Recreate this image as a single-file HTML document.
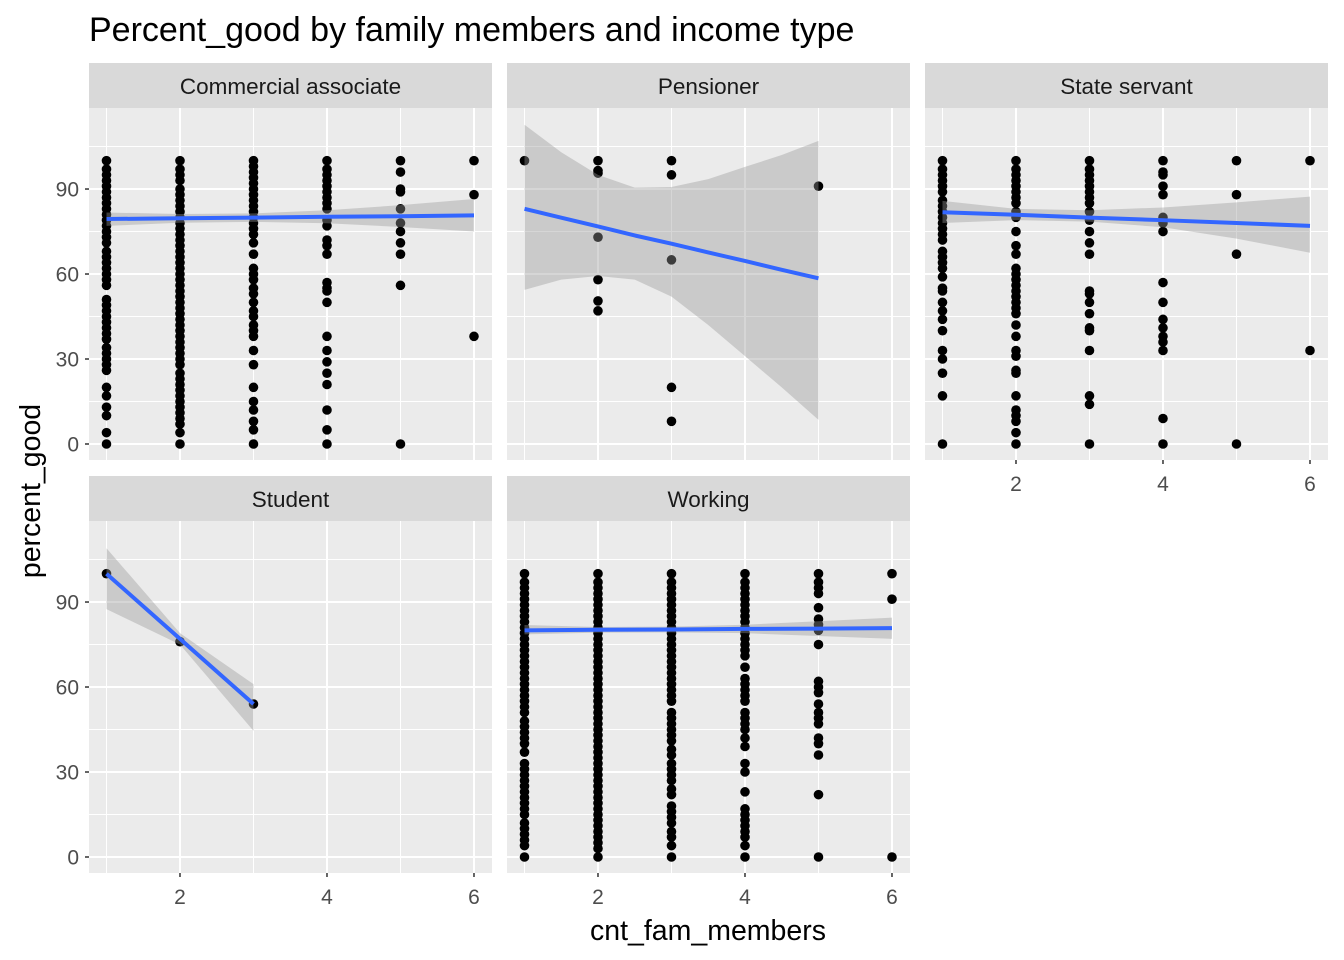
<!DOCTYPE html>
<html><head><meta charset="utf-8">
<style>
html,body{margin:0;padding:0;background:#fff;}
svg{display:block;font-family:"Liberation Sans",Arial,sans-serif;}
</style></head>
<body>
<svg id="chart" width="1344" height="960" viewBox="0 0 1344 960" xmlns="http://www.w3.org/2000/svg">
<rect width="1344" height="960" fill="#fff"/>
<text x="89" y="41" font-size="34" fill="#000">Percent_good by family members and income type</text>
<text x="708" y="940" font-size="28.5" text-anchor="middle" fill="#000">cnt_fam_members</text>
<text transform="translate(40,491) rotate(-90)" font-size="28.5" text-anchor="middle" fill="#000">percent_good</text>
<g id="panels"></g>
</svg>
<script>
// ---- data ----
const panelNames = ["Commercial associate","Pensioner","State servant","Student","Working"];
const xTicks = [2,4,6];
const yTicks = [0,30,60,90];

const comX1 = [100,97,95,93,91,89,87,85,83,81,79,77,75,73,71,68,66,64,62,60,58,56,51,49,47,45,43,41,39,37,34,32,30,28,26,20,17,13,10,4,0];
const comX2 = [100,97,95,93,90,88,86,84,82,80,78,76,74,72,70,68,66,64,62,60,58,56,54,52,50,48,46,44,42,40,38,36,34,32,30,28,25,23,21,19,17,15,13,11,9,7,4,0];
const comX3 = [100,98,96,94,92,90,88,86,84,82,80,78,76,74,71,67,62,60,58,55,53,50,47,45,42,40,38,33,28,20,15,12,8,5,0];
const comX4 = [100,97,95,93,91,89,87,85,83,79,77,72,70,67,57,55,54,50,38,33,29,25,21,12,5,0];
const comX5 = [100,96,90,89,83,78,75,71,67,56,0];
const comX6 = [100,88,38];

const penX1 = [100];
const penX2 = [100,96.5,95.6,73,58,50.5,47];
const penX3 = [100,95,65,20,8];
const penX5 = [91];

const staX1 = [100,97,95,93,91,89,86,84,82,80,78,76,74,72,68,66,64,62,59,55,54,50,47,44,40,33,30,25,17,0];
const staX2 = [100,97,95,93,91,89,87,85,82,80,75,70,67,62,60,58,56,54,52,50,48,46,42,38,33,31,26,25,17,12,10,8,4,0];
const staX3 = [100,97,95,93,91,89,87,85,82,79,75,71,67,54,53,50,46,41,40,33,17,14,0];
const staX4 = [100,96,95,91,88,80,78,75,57,50,44,41,38,36,33,9,0];
const staX5 = [100,88,67,0];
const staX6 = [100,33];

const stuX1 = [100];
const stuX2 = [76];
const stuX3 = [54];

const wrkX1 = [100,97,95,93,91,89,87,85,83,81,79,77,75,73,71,69,67,65,63,61,59,57,55,53,51,48,46,44,42,40,37,33,31,29,27,25,23,21,19,17,15,12,10,8,6,4,0];
const wrkX2 = [100,97,95,93,91,89,87,85,83,81,79,77,75,73,71,69,67,65,63,61,59,57,55,53,51,49,47,45,43,41,39,37,35,33,31,29,27,25,23,21,19,17,15,13,11,9,7,5,3,0];
const wrkX3 = [100,97,95,93,91,89,87,85,83,81,79,77,75,73,71,69,67,65,63,61,59,57,55,51,49,47,45,43,41,38,36,33,31,29,27,24,22,18,16,14,12,9,7,4,0];
const wrkX4 = [100,97,95,93,91,89,87,85,83,81,79,77,75,73,71,67,63,61,59,57,55,51,49,47,45,42,39,33,30,23,17,15,13,11,9,7,4,0];
const wrkX5 = [100,97,95,93,88,84,82,80,75,62,60,58,54,51,49,47,42,40,36,22,0];
const wrkX6 = [100,91,0];

// smooth fits (x positions, fitted line, ribbon)
const fitXCom = [1,2,3,4,5,6];
const fitCom = [79.4,79.7,79.9,80.2,80.4,80.7];
const upCom = [81.7,81.2,81.4,82.5,84.3,86.5];
const loCom = [77,78.1,78.4,77.9,76.6,75];

const fitXPen = [1,1.5,2,2.5,3,3.5,4,4.5,5];
const fitPen = [83,79.9,76.8,73.6,70.7,67.6,64.6,61.5,58.5];
const upPen = [112.7,103,95,90.5,90.7,93.5,97.8,102,107];
const loPen = [54.4,58,59.3,58,52,42,31,20,8.5];

const fitXSta = [1,2,3,4,5,6];
const fitSta = [81.8,80.9,79.9,79,78,77];
const upSta = [85.8,83,82.5,83.5,85.3,87.3];
const loSta = [78,79,78.5,76.5,72.5,67.5];

const fitXStu = [1,2,3];
const fitStu = [100,77,54];
const upStu = [109,79,61];
const loStu = [87.5,75,44.5];

const fitXWrk = [1,2,3,4,5,6];
const fitWrk = [80,80.2,80.3,80.5,80.6,80.8];
const upWrk = [81.9,81.2,81.3,82,83.2,84.5];
const loWrk = [78.6,79.2,79.3,79,78,77];

const panels = [
 {name:panelNames[0], left:89, top:63, pts:[[1,comX1],[2,comX2],[3,comX3],[4,comX4],[5,comX5],[6,comX6]], fx:fitXCom, fit:fitCom, up:upCom, lo:loCom, yLab:true, xLab:false},
 {name:panelNames[1], left:507, top:63, pts:[[1,penX1],[2,penX2],[3,penX3],[5,penX5]], fx:fitXPen, fit:fitPen, up:upPen, lo:loPen, yLab:false, xLab:false},
 {name:panelNames[2], left:925, top:63, pts:[[1,staX1],[2,staX2],[3,staX3],[4,staX4],[5,staX5],[6,staX6]], fx:fitXSta, fit:fitSta, up:upSta, lo:loSta, yLab:false, xLab:true},
 {name:panelNames[3], left:89, top:476, pts:[[1,stuX1],[2,stuX2],[3,stuX3]], fx:fitXStu, fit:fitStu, up:upStu, lo:loStu, yLab:true, xLab:true},
 {name:panelNames[4], left:507, top:476, pts:[[1,wrkX1],[2,wrkX2],[3,wrkX3],[4,wrkX4],[5,wrkX5],[6,wrkX6]], fx:fitXWrk, fit:fitWrk, up:upWrk, lo:loWrk, yLab:false, xLab:true}
];

const NS="http://www.w3.org/2000/svg";
const root=document.getElementById('panels');
function mk(tag,attrs,parent){const e=document.createElementNS(NS,tag);for(const k in attrs)e.setAttribute(k,attrs[k]);(parent||root).appendChild(e);return e;}

const W=403, STRIP=45, PH=352;
const X0=0.762, X1=6.245, Y0=-5.65, Y1=118.6;

panels.forEach((p,i)=>{
  const g=mk('g',{});
  
  
  const pt=p.top+STRIP;
  const sx=v=>p.left+(v-X0)/(X1-X0)*W;
  const sy=v=>pt+PH-(v-Y0)/(Y1-Y0)*PH;
  const strip=mk('rect',{x:p.left,y:p.top,width:W,height:STRIP,fill:'#d9d9d9'},g);
  
  
  const st=mk('text',{x:p.left+W/2,y:p.top+31,'font-size':22.5,'text-anchor':'middle',fill:'#1a1a1a'},g);
  st.textContent=p.name;
  
  
  const bg=mk('rect',{x:p.left,y:pt,width:W,height:PH,fill:'#ebebeb'},g);
  
  
  [15,45,75,105].forEach(v=>mk('line',{x1:p.left,x2:p.left+W,y1:sy(v),y2:sy(v),stroke:'#fff','stroke-width':1},g));
  [1,3,5].forEach(v=>mk('line',{x1:sx(v),x2:sx(v),y1:pt,y2:pt+PH,stroke:'#fff','stroke-width':1},g));
  yTicks.forEach(v=>mk('line',{x1:p.left,x2:p.left+W,y1:sy(v),y2:sy(v),stroke:'#fff','stroke-width':2},g));
  xTicks.forEach(v=>mk('line',{x1:sx(v),x2:sx(v),y1:pt,y2:pt+PH,stroke:'#fff','stroke-width':2},g));
  // points
  p.pts.forEach(([x,arr])=>arr.forEach(v=>{
    const c=mk('circle',{cx:sx(x),cy:sy(v),r:4.8,fill:'#000'},g);
    
    
  }));
  // ribbon
  let d='';
  p.fx.forEach((x,k)=>{d+=(k?'L':'M')+sx(x)+','+sy(p.up[k]);});
  for(let k=p.fx.length-1;k>=0;k--)d+='L'+sx(p.fx[k])+','+sy(p.lo[k]);
  const rib=mk('path',{d:d+'Z',fill:'#999999','fill-opacity':0.4},g);
  
  
  const ln=mk('polyline',{points:p.fx.map((x,k)=>sx(x)+','+sy(p.fit[k])).join(' '),fill:'none',stroke:'#3366ff','stroke-width':4},g);
  
  
  if(p.yLab){yTicks.forEach(v=>{
    mk('line',{x1:p.left-4,x2:p.left,y1:sy(v),y2:sy(v),stroke:'#333','stroke-width':1.5},g);
    const t=mk('text',{x:p.left-10,y:sy(v)+7.5,'font-size':21,'text-anchor':'end',fill:'#4d4d4d'},g);
    t.textContent=v;
    
    
  });}
  if(p.xLab){xTicks.forEach(v=>{
    mk('line',{x1:sx(v),x2:sx(v),y1:pt+PH,y2:pt+PH+4,stroke:'#333','stroke-width':1.5},g);
    const t=mk('text',{x:sx(v),y:pt+PH+31,'font-size':21,'text-anchor':'middle',fill:'#4d4d4d'},g);
    t.textContent=v;
    
    
  });}
});
</script>
</body></html>
